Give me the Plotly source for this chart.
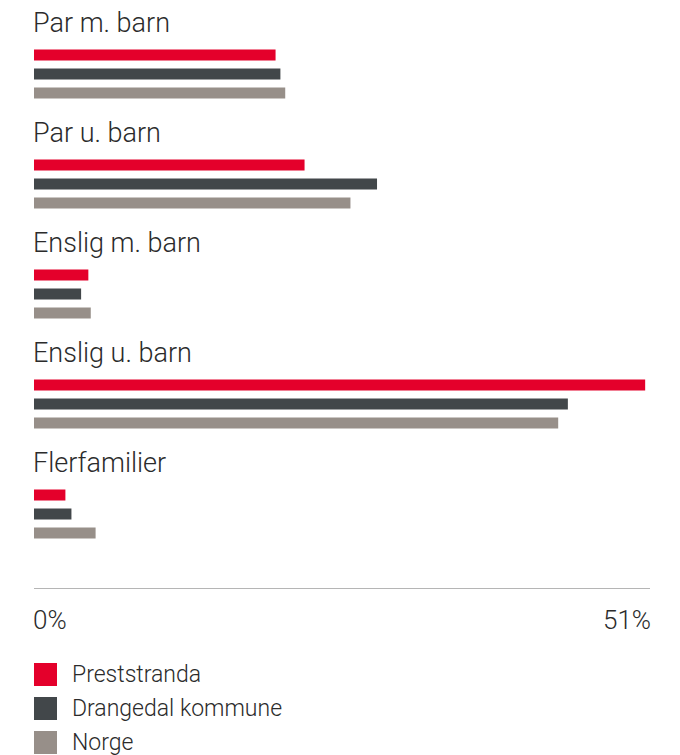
import plotly.graph_objects as go

# Household types and share (%) per area
categories = ["Par m. barn", "Par u. barn", "Enslig m. barn", "Enslig u. barn", "Flerfamilier"]
preststranda = [20.0, 22.4, 4.5, 50.6, 2.6]
drangedal = [20.4, 28.4, 3.9, 44.2, 3.1]
norge = [20.8, 26.2, 4.7, 43.4, 5.1]

series_names = ["Preststranda", "Drangedal kommune", "Norge"]
series_values = [preststranda, drangedal, norge]
colors = ["#E4002B", "#42474A", "#978F89"]

axis_max = 51
tick_vals = [0, 51]
tick_text = ["0%", "51%"]

FONT = "Roboto"
TEXT_COLOR = "#2b2b2b"

W, H = 680, 755
M_L, M_R, M_T, M_B = 34, 30, 0, 167
plot_h = H - M_T - M_B
plot_w = W - M_L - M_R
PAD = 3  # annotation inner padding to cancel

fig = go.Figure()
for name, vals, col in zip(series_names, series_values, colors):
    fig.add_trace(go.Bar(
        y=categories, x=vals, orientation="h", name=name,
        marker=dict(color=col, line=dict(width=0)),
        showlegend=False, hoverinfo="x+name",
    ))

annotations = []
# category headings above each group
for c in categories:
    annotations.append(dict(
        x=0, xref="paper", xanchor="left", xshift=-PAD,
        y=c, yref="y", yanchor="middle", yshift=51,
        text=c, showarrow=False,
        font=dict(family=FONT, size=27, color=TEXT_COLOR, weight=300),
    ))

# end labels of the value axis
for v, t, anchor, sh in zip(tick_vals, tick_text, ["left", "right"], [-PAD, PAD]):
    annotations.append(dict(
        x=v, xref="x", xanchor=anchor, xshift=sh,
        y=-(620 - plot_h) / plot_h, yref="paper", yanchor="middle",
        text=t, showarrow=False,
        font=dict(family=FONT, size=26, color=TEXT_COLOR, weight=300),
    ))

# legend drawn as swatches + labels
shapes = []
legend_rows = [674.5, 708.5, 742.5]
sw = 23
for name, col, cy in zip(series_names, colors, legend_rows):
    y0 = (plot_h - (cy + sw / 2)) / plot_h
    y1 = (plot_h - (cy - sw / 2)) / plot_h
    shapes.append(dict(
        type="rect", xref="paper", yref="paper",
        x0=0, x1=sw / plot_w, y0=y0, y1=y1,
        fillcolor=col, line=dict(width=0),
    ))
    annotations.append(dict(
        x=(73 - M_L) / plot_w, xref="paper", xanchor="left", xshift=-PAD,
        y=(plot_h - cy) / plot_h, yref="paper", yanchor="middle",
        text=name, showarrow=False,
        font=dict(family=FONT, size=23, color=TEXT_COLOR, weight=300),
    ))

top_idx = -74 / 110
bottom_idx = (plot_h - 74) / 110

fig.update_layout(
    width=W, height=H,
    margin=dict(l=M_L, r=M_R, t=M_T, b=M_B),
    paper_bgcolor="white", plot_bgcolor="white",
    barmode="group", bargap=0.482, bargroupgap=0.42,
    xaxis=dict(range=[0, axis_max], showgrid=False, zeroline=False,
               showticklabels=False, ticks="", showline=True,
               linecolor="#b5b5b5", linewidth=1, fixedrange=True),
    yaxis=dict(type="category", categoryorder="array", categoryarray=categories,
               range=[bottom_idx, top_idx], showgrid=False, zeroline=False,
               showticklabels=False, ticks="", showline=False, fixedrange=True),
    annotations=annotations,
    shapes=shapes,
    font=dict(family=FONT),
)

fig.write_html("out.html", config={"displayModeBar": False})
